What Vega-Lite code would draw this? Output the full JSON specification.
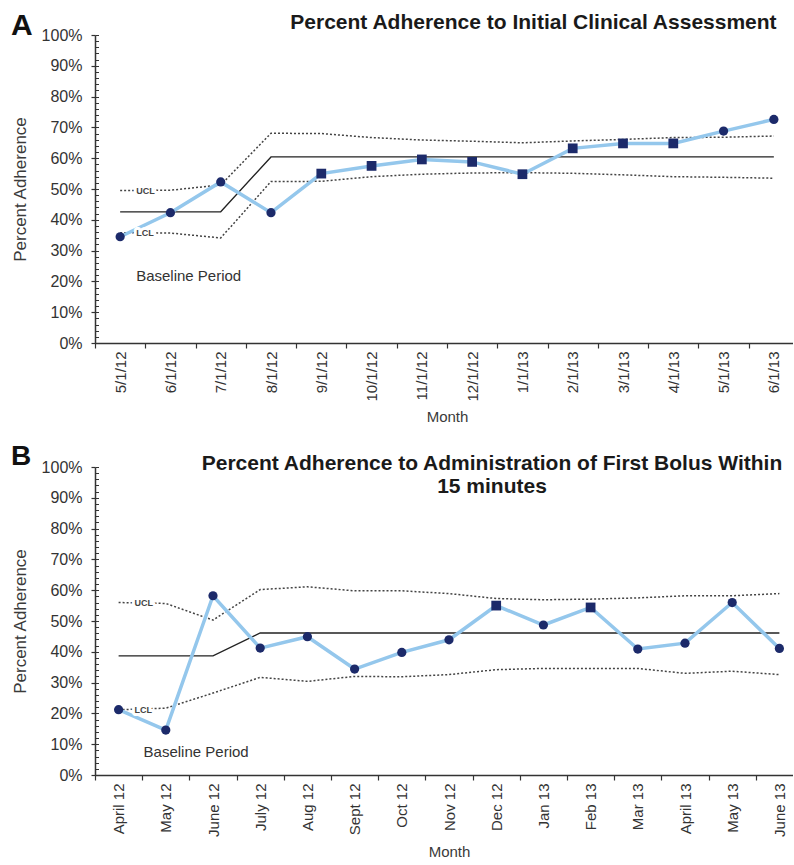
{
  "$schema": "https://vega.github.io/schema/vega-lite/v6.json",
  "background": "white",
  "padding": {"left": 11, "top": 11, "right": -11, "bottom": 0},
  "config": {
    "view": {"stroke": null},
    "font": "Liberation Sans",
    "axis": {"labelFont": "Liberation Sans", "titleFont": "Liberation Sans", "labelColor": "#333333", "titleColor": "#3a3a3a", "domainColor": "#333333", "tickColor": "#333333", "grid": false, "titleFontWeight": "normal"},
    "title": {"font": "Liberation Sans", "color": "#1a1a1a"}
  },
  "datasets": {
    "a": [
      {"month": "5/1/12", "adherence": 0.345, "cl": 0.426, "ucl": 0.495, "lcl": 0.358, "signal": "no"},
      {"month": "6/1/12", "adherence": 0.423, "cl": 0.426, "ucl": 0.496, "lcl": 0.357, "signal": "no"},
      {"month": "7/1/12", "adherence": 0.523, "cl": 0.426, "ucl": 0.513, "lcl": 0.341, "signal": "no"},
      {"month": "8/1/12", "adherence": 0.423, "cl": 0.604, "ucl": 0.681, "lcl": 0.524, "signal": "no"},
      {"month": "9/1/12", "adherence": 0.550, "cl": 0.604, "ucl": 0.680, "lcl": 0.525, "signal": "yes"},
      {"month": "10/1/12", "adherence": 0.575, "cl": 0.604, "ucl": 0.667, "lcl": 0.540, "signal": "yes"},
      {"month": "11/1/12", "adherence": 0.596, "cl": 0.604, "ucl": 0.659, "lcl": 0.548, "signal": "yes"},
      {"month": "12/1/12", "adherence": 0.588, "cl": 0.604, "ucl": 0.655, "lcl": 0.552, "signal": "yes"},
      {"month": "1/1/13", "adherence": 0.548, "cl": 0.604, "ucl": 0.650, "lcl": 0.553, "signal": "yes"},
      {"month": "2/1/13", "adherence": 0.632, "cl": 0.604, "ucl": 0.656, "lcl": 0.551, "signal": "yes"},
      {"month": "3/1/13", "adherence": 0.648, "cl": 0.604, "ucl": 0.661, "lcl": 0.546, "signal": "yes"},
      {"month": "4/1/13", "adherence": 0.648, "cl": 0.604, "ucl": 0.667, "lcl": 0.540, "signal": "yes"},
      {"month": "5/1/13", "adherence": 0.688, "cl": 0.604, "ucl": 0.668, "lcl": 0.538, "signal": "no"},
      {"month": "6/1/13", "adherence": 0.726, "cl": 0.604, "ucl": 0.672, "lcl": 0.535, "signal": "no"}
    ],
    "b": [
      {"month": "April 12", "adherence": 0.212, "cl": 0.387, "ucl": 0.560, "lcl": 0.212, "signal": "no"},
      {"month": "May 12", "adherence": 0.146, "cl": 0.387, "ucl": 0.557, "lcl": 0.217, "signal": "no"},
      {"month": "June 12", "adherence": 0.582, "cl": 0.387, "ucl": 0.503, "lcl": 0.266, "signal": "no"},
      {"month": "July 12", "adherence": 0.412, "cl": 0.461, "ucl": 0.602, "lcl": 0.317, "signal": "no"},
      {"month": "Aug 12", "adherence": 0.449, "cl": 0.461, "ucl": 0.611, "lcl": 0.304, "signal": "no"},
      {"month": "Sept 12", "adherence": 0.344, "cl": 0.461, "ucl": 0.598, "lcl": 0.320, "signal": "no"},
      {"month": "Oct 12", "adherence": 0.398, "cl": 0.461, "ucl": 0.598, "lcl": 0.319, "signal": "no"},
      {"month": "Nov 12", "adherence": 0.439, "cl": 0.461, "ucl": 0.589, "lcl": 0.326, "signal": "no"},
      {"month": "Dec 12", "adherence": 0.550, "cl": 0.461, "ucl": 0.573, "lcl": 0.342, "signal": "yes"},
      {"month": "Jan 13", "adherence": 0.487, "cl": 0.461, "ucl": 0.569, "lcl": 0.346, "signal": "no"},
      {"month": "Feb 13", "adherence": 0.544, "cl": 0.461, "ucl": 0.571, "lcl": 0.346, "signal": "yes"},
      {"month": "Mar 13", "adherence": 0.409, "cl": 0.461, "ucl": 0.575, "lcl": 0.346, "signal": "no"},
      {"month": "April 13", "adherence": 0.428, "cl": 0.461, "ucl": 0.582, "lcl": 0.330, "signal": "no"},
      {"month": "May 13", "adherence": 0.560, "cl": 0.461, "ucl": 0.582, "lcl": 0.337, "signal": "no"},
      {"month": "June 13", "adherence": 0.411, "cl": 0.461, "ucl": 0.589, "lcl": 0.326, "signal": "no"}
    ]
  },
  "spacing": 18,
  "vconcat": [
    {
      "title": {"text": "A", "anchor": "start", "frame": "bounds", "fontSize": 30, "fontWeight": "bold", "color": "#111111", "offset": -29},
      "vconcat": [
        {
          "width": 704,
          "height": 308,
          "data": {"name": "a"},
          "title": {"text": "Percent Adherence to Initial  Clinical Assessment", "anchor": "end", "fontSize": 21, "fontWeight": "bold", "dx": -23, "offset": -6},
          "resolve": {"scale": {"y": "independent"}, "axis": {"y": "independent"}},
          "encoding": {
            "x": {"field": "month", "type": "ordinal", "sort": null,
              "scale": {"type": "band", "paddingInner": 0, "paddingOuter": 0},
              "axis": {"title": "Month", "labelAngle": -90, "tickBand": "extent", "tickSize": 5, "labelPadding": 3, "labelFontSize": 15, "titleFontSize": 15, "domainWidth": 1.5, "tickWidth": 1.2, "titlePadding": 8}}
          },
          "layer": [
            {"mark": {"type": "line", "color": "#222222", "strokeWidth": 1.3},
             "encoding": {"y": {"field": "cl", "type": "quantitative", "scale": {"domain": [0, 1], "nice": false},
               "axis": {"orient": "left", "title": "Percent Adherence", "format": ".0%", "values": [0, 0.1, 0.2, 0.3, 0.4, 0.5, 0.6, 0.7, 0.8, 0.9, 1], "tickSize": 4, "labelPadding": 9, "labelFontSize": 16, "titleFontSize": 17, "titlePadding": 12, "domainWidth": 1.5, "tickWidth": 1.2}}}},
            {"mark": {"type": "line", "color": "#444444", "strokeWidth": 1.5, "strokeDash": [2, 2]},
             "encoding": {"y": {"field": "ucl", "type": "quantitative", "scale": {"domain": [0, 1], "nice": false},
               "axis": {"orient": "right", "offset": -704, "title": null, "labels": false, "domain": false, "tickSize": 3.5, "tickWidth": 1, "values": [0, 0.02, 0.04, 0.06, 0.08, 0.1, 0.12, 0.14, 0.16, 0.18, 0.2, 0.22, 0.24, 0.26, 0.28, 0.3, 0.32, 0.34, 0.36, 0.38, 0.4, 0.42, 0.44, 0.46, 0.48, 0.5, 0.52, 0.54, 0.56, 0.58, 0.6, 0.62, 0.64, 0.66, 0.68, 0.7, 0.72, 0.74, 0.76, 0.78, 0.8, 0.82, 0.84, 0.86, 0.88, 0.9, 0.92, 0.94, 0.96, 0.98, 1]}}}},
            {"mark": {"type": "line", "color": "#444444", "strokeWidth": 1.5, "strokeDash": [2, 2]},
             "encoding": {"y": {"field": "lcl", "type": "quantitative", "scale": {"domain": [0, 1], "nice": false}, "axis": null}}},
            {"mark": {"type": "line", "color": "#94C7EC", "strokeWidth": 3.5},
             "encoding": {"y": {"field": "adherence", "type": "quantitative", "scale": {"domain": [0, 1], "nice": false}, "axis": null}}},
            {"transform": [{"filter": "datum.month === '5/1/12'"}],
             "mark": {"type": "text", "text": "UCL", "align": "left", "baseline": "middle", "dx": 16, "fontSize": 9, "fontWeight": "bold", "fill": "white", "stroke": "white", "strokeWidth": 6, "strokeJoin": "round"},
             "encoding": {"y": {"field": "ucl", "type": "quantitative", "scale": {"domain": [0, 1], "nice": false}, "axis": null}}},
            {"transform": [{"filter": "datum.month === '5/1/12'"}],
             "mark": {"type": "text", "text": "UCL", "align": "left", "baseline": "middle", "dx": 16, "fontSize": 9, "fontWeight": "bold", "color": "#444444"},
             "encoding": {"y": {"field": "ucl", "type": "quantitative", "scale": {"domain": [0, 1], "nice": false}, "axis": null}}},
            {"transform": [{"filter": "datum.month === '5/1/12'"}],
             "mark": {"type": "text", "text": "LCL", "align": "left", "baseline": "middle", "dx": 16, "fontSize": 9, "fontWeight": "bold", "fill": "white", "stroke": "white", "strokeWidth": 6, "strokeJoin": "round"},
             "encoding": {"y": {"field": "lcl", "type": "quantitative", "scale": {"domain": [0, 1], "nice": false}, "axis": null}}},
            {"transform": [{"filter": "datum.month === '5/1/12'"}],
             "mark": {"type": "text", "text": "LCL", "align": "left", "baseline": "middle", "dx": 16, "fontSize": 9, "fontWeight": "bold", "color": "#444444"},
             "encoding": {"y": {"field": "lcl", "type": "quantitative", "scale": {"domain": [0, 1], "nice": false}, "axis": null}}},
            {"mark": {"type": "point", "filled": true, "opacity": 1, "color": "#1C2A6A"},
             "encoding": {"y": {"field": "adherence", "type": "quantitative", "scale": {"domain": [0, 1], "nice": false}, "axis": null},
               "shape": {"field": "signal", "type": "nominal", "scale": {"domain": ["no", "yes"], "range": ["circle", "square"]}, "legend": null},
               "size": {"field": "signal", "type": "nominal", "scale": {"domain": ["no", "yes"], "range": [85, 95]}, "legend": null}}},
            {"transform": [{"filter": "datum.month === '5/1/12'"}],
             "mark": {"type": "text", "text": "Baseline Period", "align": "left", "baseline": "middle", "dx": 16, "fontSize": 15, "color": "#333333"},
             "encoding": {"x": {"datum": "5/1/12"}, "y": {"datum": 0.218, "type": "quantitative", "scale": {"domain": [0, 1], "nice": false}, "axis": null}}}
          ]
        }
      ]
    },
    {
      "title": {"text": "B", "anchor": "start", "frame": "bounds", "fontSize": 28, "fontWeight": "bold", "color": "#111111", "offset": -18},
      "vconcat": [
        {
          "width": 708,
          "height": 308,
          "data": {"name": "b"},
          "title": {"text": ["Percent Adherence to Administration  of First Bolus Within", "15 minutes"], "anchor": "middle", "align": "center", "fontSize": 21, "fontWeight": "bold", "dx": 43, "offset": -38, "lineHeight": 23},
          "resolve": {"scale": {"y": "independent"}, "axis": {"y": "independent"}},
          "encoding": {
            "x": {"field": "month", "type": "ordinal", "sort": null,
              "scale": {"type": "band", "paddingInner": 0, "paddingOuter": 0},
              "axis": {"title": "Month", "labelAngle": -90, "tickBand": "extent", "tickSize": 5, "labelPadding": 3, "labelFontSize": 15, "titleFontSize": 15, "domainWidth": 1.5, "tickWidth": 1.2, "titlePadding": 8}}
          },
          "layer": [
            {"mark": {"type": "line", "color": "#222222", "strokeWidth": 1.3},
             "encoding": {"y": {"field": "cl", "type": "quantitative", "scale": {"domain": [0, 1], "nice": false},
               "axis": {"orient": "left", "title": "Percent Adherence", "format": ".0%", "values": [0, 0.1, 0.2, 0.3, 0.4, 0.5, 0.6, 0.7, 0.8, 0.9, 1], "tickSize": 4, "labelPadding": 9, "labelFontSize": 16, "titleFontSize": 17, "titlePadding": 12, "domainWidth": 1.5, "tickWidth": 1.2}}}},
            {"mark": {"type": "line", "color": "#444444", "strokeWidth": 1.5, "strokeDash": [2, 2]},
             "encoding": {"y": {"field": "ucl", "type": "quantitative", "scale": {"domain": [0, 1], "nice": false},
               "axis": {"orient": "right", "offset": -708, "title": null, "labels": false, "domain": false, "tickSize": 3.5, "tickWidth": 1, "values": [0, 0.02, 0.04, 0.06, 0.08, 0.1, 0.12, 0.14, 0.16, 0.18, 0.2, 0.22, 0.24, 0.26, 0.28, 0.3, 0.32, 0.34, 0.36, 0.38, 0.4, 0.42, 0.44, 0.46, 0.48, 0.5, 0.52, 0.54, 0.56, 0.58, 0.6, 0.62, 0.64, 0.66, 0.68, 0.7, 0.72, 0.74, 0.76, 0.78, 0.8, 0.82, 0.84, 0.86, 0.88, 0.9, 0.92, 0.94, 0.96, 0.98, 1]}}}},
            {"mark": {"type": "line", "color": "#444444", "strokeWidth": 1.5, "strokeDash": [2, 2]},
             "encoding": {"y": {"field": "lcl", "type": "quantitative", "scale": {"domain": [0, 1], "nice": false}, "axis": null}}},
            {"mark": {"type": "line", "color": "#94C7EC", "strokeWidth": 3.5},
             "encoding": {"y": {"field": "adherence", "type": "quantitative", "scale": {"domain": [0, 1], "nice": false}, "axis": null}}},
            {"transform": [{"filter": "datum.month === 'April 12'"}],
             "mark": {"type": "text", "text": "UCL", "align": "left", "baseline": "middle", "dx": 16, "fontSize": 9, "fontWeight": "bold", "fill": "white", "stroke": "white", "strokeWidth": 6, "strokeJoin": "round"},
             "encoding": {"y": {"field": "ucl", "type": "quantitative", "scale": {"domain": [0, 1], "nice": false}, "axis": null}}},
            {"transform": [{"filter": "datum.month === 'April 12'"}],
             "mark": {"type": "text", "text": "UCL", "align": "left", "baseline": "middle", "dx": 16, "fontSize": 9, "fontWeight": "bold", "color": "#444444"},
             "encoding": {"y": {"field": "ucl", "type": "quantitative", "scale": {"domain": [0, 1], "nice": false}, "axis": null}}},
            {"transform": [{"filter": "datum.month === 'April 12'"}],
             "mark": {"type": "text", "text": "LCL", "align": "left", "baseline": "middle", "dx": 16, "fontSize": 9, "fontWeight": "bold", "fill": "white", "stroke": "white", "strokeWidth": 6, "strokeJoin": "round"},
             "encoding": {"y": {"field": "lcl", "type": "quantitative", "scale": {"domain": [0, 1], "nice": false}, "axis": null}}},
            {"transform": [{"filter": "datum.month === 'April 12'"}],
             "mark": {"type": "text", "text": "LCL", "align": "left", "baseline": "middle", "dx": 16, "fontSize": 9, "fontWeight": "bold", "color": "#444444"},
             "encoding": {"y": {"field": "lcl", "type": "quantitative", "scale": {"domain": [0, 1], "nice": false}, "axis": null}}},
            {"mark": {"type": "point", "filled": true, "opacity": 1, "color": "#1C2A6A"},
             "encoding": {"y": {"field": "adherence", "type": "quantitative", "scale": {"domain": [0, 1], "nice": false}, "axis": null},
               "shape": {"field": "signal", "type": "nominal", "scale": {"domain": ["no", "yes"], "range": ["circle", "square"]}, "legend": null},
               "size": {"field": "signal", "type": "nominal", "scale": {"domain": ["no", "yes"], "range": [85, 95]}, "legend": null}}},
            {"transform": [{"filter": "datum.month === 'April 12'"}],
             "mark": {"type": "text", "text": "Baseline Period", "align": "left", "baseline": "middle", "dx": 25, "fontSize": 15, "color": "#333333"},
             "encoding": {"x": {"datum": "April 12"}, "y": {"datum": 0.076, "type": "quantitative", "scale": {"domain": [0, 1], "nice": false}, "axis": null}}}
          ]
        }
      ]
    }
  ]
}
